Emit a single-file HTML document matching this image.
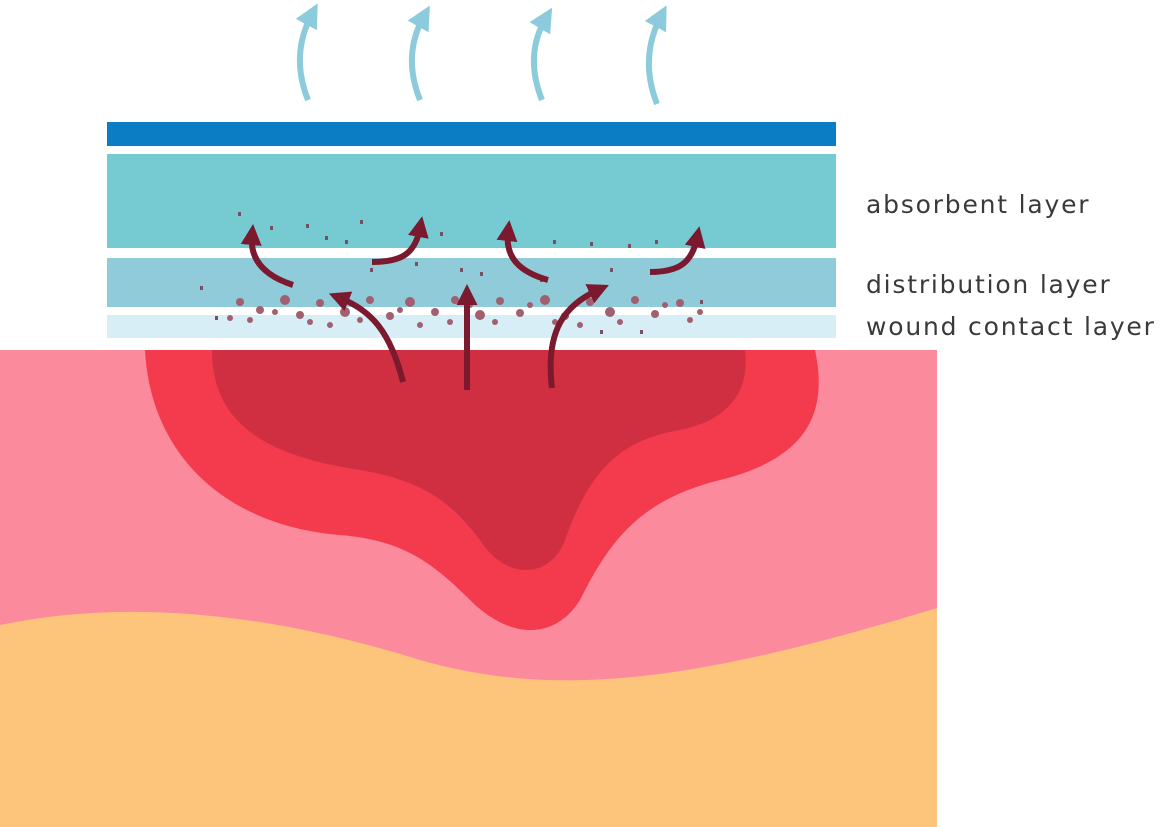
<!DOCTYPE html>
<html><head><style>
body{margin:0;background:#fff;width:1166px;height:827px;overflow:hidden}
svg{display:block}
text{font-family:"DejaVu Sans","Liberation Sans",sans-serif;font-size:25px;letter-spacing:1.8px;fill:#3a3a3a}
</style></head><body>
<svg width="1166" height="827" viewBox="0 0 1166 827" xmlns="http://www.w3.org/2000/svg">
<defs>
<marker id="lb" markerWidth="4" markerHeight="4" refX="2" refY="2" orient="auto" markerUnits="strokeWidth"><path d="M0,0 L4,2 L0,4 z" fill="#8ccbdc"/></marker>
<marker id="dr" markerWidth="3.5" markerHeight="3.5" refX="1.5" refY="1.75" orient="auto" markerUnits="strokeWidth"><path d="M0,0 L3.5,1.75 L0,3.5 z" fill="#7b1a2e"/></marker>
</defs>
<g fill="none" stroke="#8ccbdc" stroke-width="6">
<path d="M308,100 Q290,55 312,14" marker-end="url(#lb)"/>
<path d="M420,100 Q402,55 424,16" marker-end="url(#lb)"/>
<path d="M542,100 Q524,55 546,18" marker-end="url(#lb)"/>
<path d="M657,104 Q639,58 661,16" marker-end="url(#lb)"/>
</g>
<rect x="107" y="122" width="729" height="24" fill="#0a7dc4"/>
<rect x="107" y="154" width="729" height="94" fill="#76cad2"/>
<rect x="107" y="258" width="729" height="49" fill="#90cbd9"/>
<rect x="107" y="315" width="729" height="23" fill="#d8eef6"/>
<rect x="0" y="350" width="937" height="477" fill="#fb8a9c"/>
<path d="M0,625 C120,600 260,610 420,660 C560,700 700,680 937,608 L937,827 L0,827 Z" fill="#fdc57c"/>
<path d="M145,350 L815,350 C830,420 800,460 720,480 C640,500 610,540 580,600 C555,640 510,640 470,600 C430,560 400,540 340,535 C220,525 150,450 145,350 Z" fill="#f43a4d"/>
<path d="M212,350 L745,350 C750,390 730,420 680,430 C620,440 590,470 565,540 C550,580 505,580 480,540 C450,500 420,480 360,470 C260,455 212,420 212,350 Z" fill="#d02f42"/>
<g fill="#a0606f">
<circle cx="240" cy="302" r="4"/><circle cx="260" cy="310" r="4"/><circle cx="285" cy="300" r="5"/><circle cx="300" cy="315" r="4"/><circle cx="320" cy="303" r="4"/><circle cx="345" cy="312" r="5"/><circle cx="370" cy="300" r="4"/><circle cx="390" cy="316" r="4"/><circle cx="410" cy="302" r="5"/><circle cx="435" cy="312" r="4"/><circle cx="455" cy="300" r="4"/><circle cx="480" cy="315" r="5"/><circle cx="500" cy="301" r="4"/><circle cx="520" cy="313" r="4"/><circle cx="545" cy="300" r="5"/><circle cx="565" cy="316" r="4"/><circle cx="590" cy="302" r="4"/><circle cx="610" cy="312" r="5"/><circle cx="635" cy="300" r="4"/><circle cx="655" cy="314" r="4"/><circle cx="680" cy="303" r="4"/><circle cx="230" cy="318" r="3"/><circle cx="330" cy="325" r="3"/><circle cx="420" cy="325" r="3"/><circle cx="580" cy="325" r="3"/><circle cx="690" cy="320" r="3"/>
<circle cx="250" cy="320" r="3"/><circle cx="275" cy="312" r="3"/><circle cx="310" cy="322" r="3"/><circle cx="360" cy="320" r="3"/><circle cx="400" cy="310" r="3"/><circle cx="450" cy="322" r="3"/><circle cx="495" cy="322" r="3"/><circle cx="530" cy="305" r="3"/><circle cx="555" cy="322" r="3"/><circle cx="620" cy="322" r="3"/><circle cx="665" cy="305" r="3"/><circle cx="700" cy="312" r="3"/><circle cx="470" cy="305" r="3"/>
</g>
<g fill="#7a5060">
<rect x="238" y="212" width="3" height="4"/><rect x="270" y="226" width="3" height="4"/><rect x="306" y="224" width="3" height="4"/><rect x="325" y="236" width="3" height="4"/><rect x="360" y="220" width="3" height="4"/><rect x="345" y="240" width="3" height="4"/><rect x="440" y="232" width="3" height="4"/><rect x="415" y="262" width="3" height="4"/><rect x="460" y="268" width="3" height="4"/><rect x="480" y="272" width="3" height="4"/><rect x="553" y="240" width="3" height="4"/><rect x="590" y="242" width="3" height="4"/><rect x="628" y="244" width="3" height="4"/><rect x="655" y="240" width="3" height="4"/><rect x="610" y="268" width="3" height="4"/><rect x="200" y="286" width="3" height="4"/><rect x="370" y="268" width="3" height="4"/><rect x="540" y="278" width="3" height="4"/><rect x="700" y="300" width="3" height="4"/><rect x="215" y="316" width="3" height="4"/><rect x="640" y="330" width="3" height="4"/><rect x="600" y="330" width="3" height="4"/>
</g>
<g fill="none" stroke="#7b1a2e" stroke-width="6">
<path d="M403,382 C390,330 370,310 340,298" marker-end="url(#dr)"/>
<path d="M467,390 L467,296" marker-end="url(#dr)"/>
<path d="M552,388 C545,330 565,305 598,290" marker-end="url(#dr)"/>
<path d="M293,285 C262,275 250,258 252,236" marker-end="url(#dr)"/>
<path d="M372,262 C400,262 415,255 420,228" marker-end="url(#dr)"/>
<path d="M548,280 C520,272 505,258 508,232" marker-end="url(#dr)"/>
<path d="M650,272 C680,272 692,262 697,238" marker-end="url(#dr)"/>
</g>
<text x="866" y="213">absorbent layer</text>
<text x="866" y="293">distribution layer</text>
<text x="866" y="335">wound contact layer</text>
</svg>
</body></html>
